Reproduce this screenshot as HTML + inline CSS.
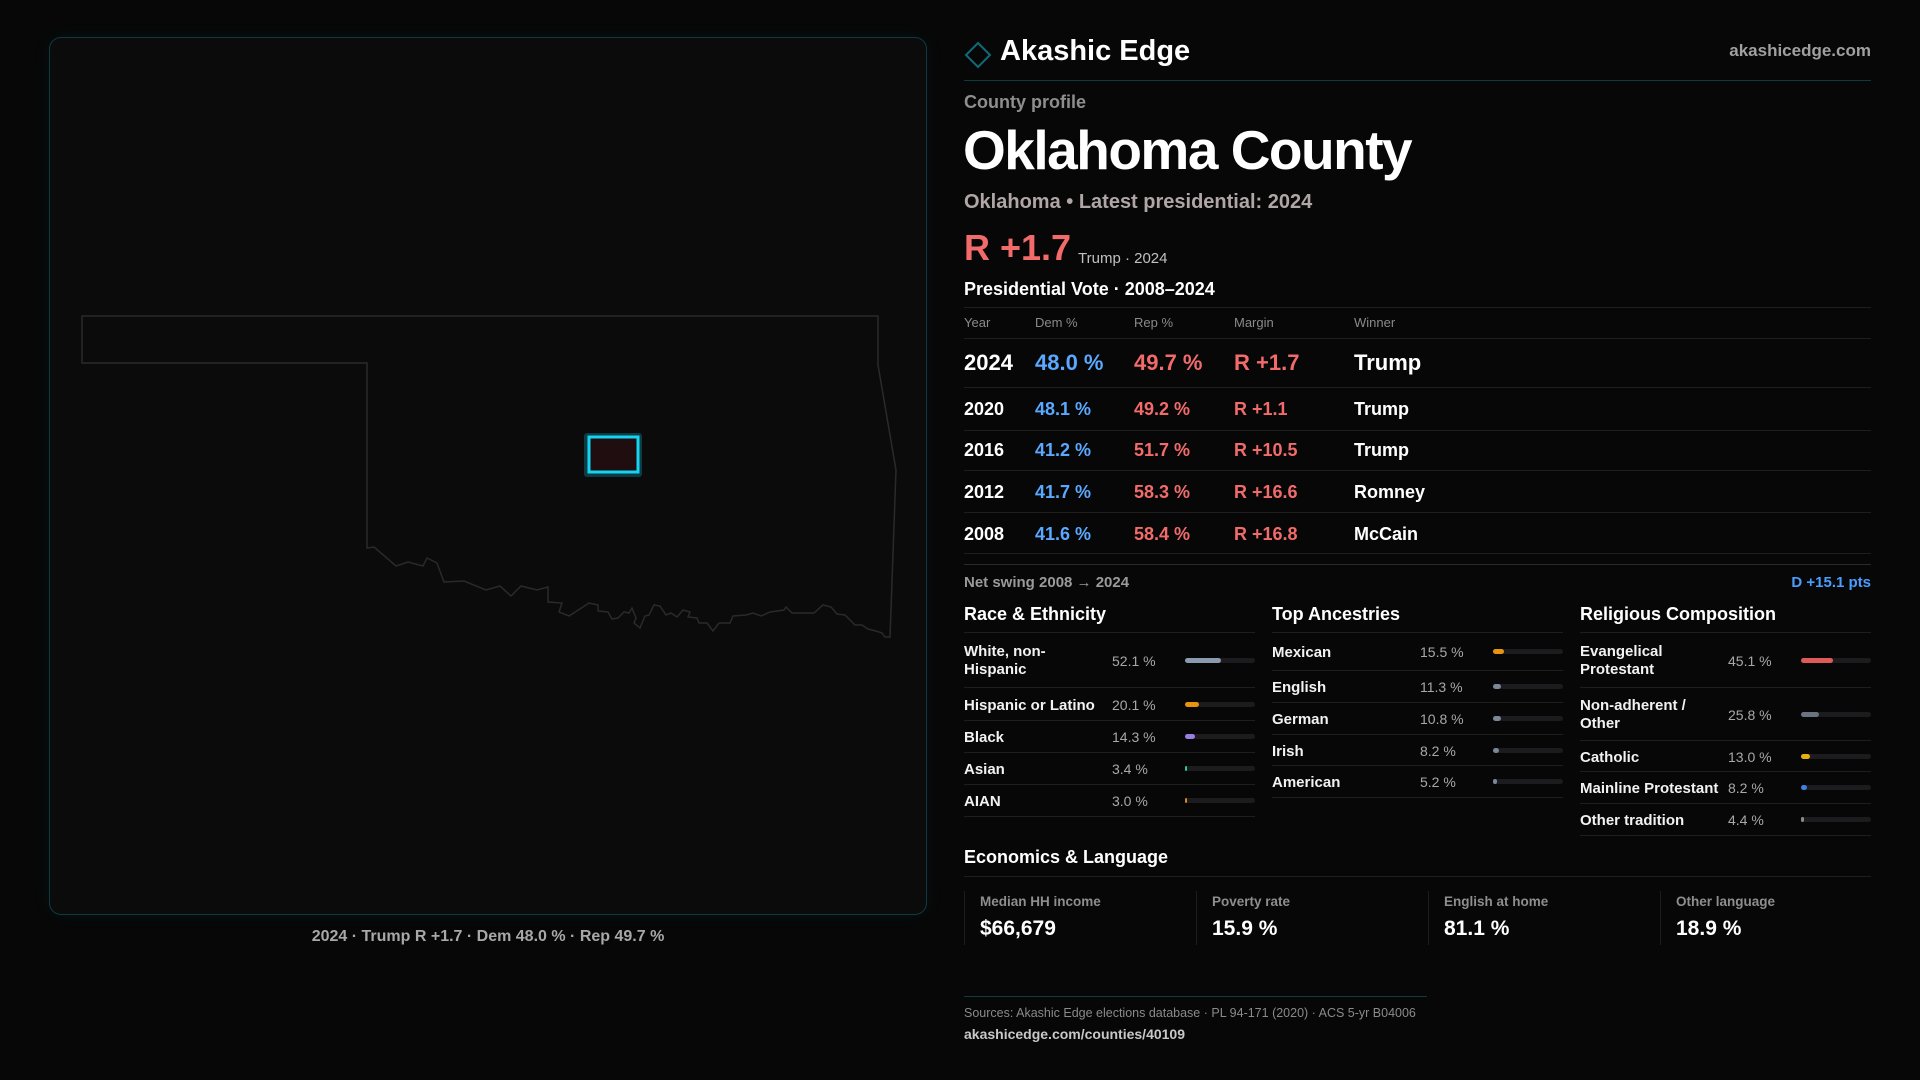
<!DOCTYPE html>
<html><head><meta charset="utf-8"><style>
*{margin:0;padding:0;box-sizing:border-box}
body{width:1920px;height:1080px;background:#070707;font-family:"Liberation Sans",sans-serif;color:#fff;position:relative;overflow:hidden}
.a{position:absolute;white-space:nowrap}
.hl{position:absolute;height:1px;background:#1e1e1e}
.lbl{font-size:15px;font-weight:bold;color:#f2f2f2;line-height:18px}
.val{font-size:14px;color:#a8a8a8}
.track{position:absolute;height:5px;border-radius:3px;background:#1c1c1e}
.fill{position:absolute;left:0;top:0;height:5px;border-radius:3px}
</style></head><body>
<div class="a" style="left:49px;top:37px;width:878px;height:878px;border:1px solid #0f3a40;border-radius:12px;background:#0b0b0c;box-shadow:0 0 18px rgba(0,180,200,0.06)"></div>
<svg class="a" style="left:0;top:0" width="960" height="1000">
<path fill="none" stroke="#2a2a2a" stroke-width="1.5" d="M82,316 L878,316 L878,365 L896,470 L890,637 L885,637 L882,633 L876,631 L868,629 L862,625 L855,625 L845,615 L837,614 L831,607 L823,605 L814,613 L792,613 L786,607 L784,610 L770,612 L761,616 L753,613 L746,615 L733,616 L730,623 L719,623 L713,631 L707,623 L699,623 L697,618 L688,617 L690,612 L683,610 L677,617 L671,613 L666,615 L660,606 L654,605 L649,615 L645,616 L640,628 L634,623 L636,618 L632,608 L629,613 L624,612 L618,618 L612,619 L608,612 L598,611 L598,605 L589,603 L569,616 L559,612 L562,603 L548,602 L548,587 L537,590 L521,586 L511,596 L500,586 L486,590 L464,581 L444,582 L437,563 L427,558 L423,566 L408,562 L396,566 L374,547 L367,548 L367,363 L82,363 Z"/>
<rect x="584" y="433" width="58" height="44" rx="3" fill="#0d3b44"/>
<rect x="589" y="437" width="49" height="35" fill="#1f0d10" stroke="#14d4f0" stroke-width="3"/>
</svg>
<div class="a" style="left:49px;width:878px;top:928px;text-align:center;font-size:16px;font-weight:bold;color:#a8a8a8">2024 · Trump R +1.7 · Dem 48.0 % · Rep 49.7 %</div>

<svg class="a" style="left:964px;top:41px" width="28" height="28"><path d="M14,2 L26,14 L14,26 L2,14 Z" fill="none" stroke="#0f6a78" stroke-width="2"/></svg>
<div class="a" style="left:1000px;top:35px;font-size:29px;font-weight:bold">Akashic Edge</div>
<div class="a" style="right:49px;top:41px;font-size:17px;font-weight:bold;color:#a0a0a0">akashicedge.com</div>
<div class="hl" style="left:964px;width:907px;top:80px;background:#0f3a40"></div>
<div class="a" style="left:964px;top:92px;font-size:18px;font-weight:bold;color:#8e8e8e">County profile</div>
<div class="a" style="left:963px;top:118px;font-size:55px;font-weight:bold;letter-spacing:-1.5px">Oklahoma County</div>
<div class="a" style="left:964px;top:191px;font-size:20px;font-weight:bold;color:#b0a6a6">Oklahoma • Latest presidential: 2024</div>
<div class="a" style="left:964px;top:227px;font-size:36px;font-weight:bold;color:#f26b6b">R +1.7</div>
<div class="a" style="left:1078px;top:250px;font-size:15px;color:#c0c0c0">Trump · 2024</div>
<div class="a" style="left:964px;top:279px;font-size:18px;font-weight:bold">Presidential Vote · 2008–2024</div>
<div id="vt"></div>
<div class="a" style="left:964px;top:574px;font-size:15px;font-weight:bold;color:#9a9a9a">Net swing 2008 → 2024</div>
<div class="a" style="right:49px;top:574px;font-size:15px;font-weight:bold;color:#4a9eff">D +15.1 pts</div>
<div id="bars"></div>
<div class="a" style="left:964px;top:847px;font-size:18px;font-weight:bold">Economics &amp; Language</div>
<div class="hl" style="left:964px;width:907px;top:876px"></div>
<div id="econ"></div>
<div class="hl" style="left:964px;width:463px;top:996px;background:#0f3a40"></div>
<div class="a" style="left:964px;top:1006px;font-size:12.5px;color:#8a8a8a">Sources: Akashic Edge elections database · PL 94-171 (2020) · ACS 5-yr B04006</div>
<div class="a" style="left:964px;top:1026px;font-size:14px;font-weight:bold;color:#c8c8c8">akashicedge.com/counties/40109</div>
<script>
const years=["2024","2020","2016","2012","2008"];
const demPct=[48.0,48.1,41.2,41.7,41.6];
const repPct=[49.7,49.2,51.7,58.3,58.4];
const winners=["Trump","Trump","Trump","Romney","McCain"];
const raceLabels=["White, non-<br>Hispanic","Hispanic or Latino","Black","Asian","AIAN"];
const raceVals=[52.1,20.1,14.3,3.4,3.0];
const ancLabels=["Mexican","English","German","Irish","American"];
const ancVals=[15.5,11.3,10.8,8.2,5.2];
const relLabels=["Evangelical<br>Protestant","Non-adherent /<br>Other","Catholic","Mainline Protestant","Other tradition"];
const relVals=[45.1,25.8,13.0,8.2,4.4];
const econLabels=["Median HH income","Poverty rate","English at home","Other language"];
const econVals=["$66,679","15.9 %","81.1 %","18.9 %"];

function add(parent,html,name,style,cls){const d=document.createElement('div');d.className=cls||'a';d.innerHTML=html;d.style.cssText=style;


parent.appendChild(d);return d;}
const vt=document.getElementById('vt');
const cols=[964,1035,1134,1234,1354];
["Year","Dem %","Rep %","Margin","Winner"].forEach((h,i)=>add(vt,h,'table-header','left:'+cols[i]+'px;top:315px;font-size:13px;color:#8a8a8a'));
[307,338].forEach(y=>add(vt,'','table-rule','left:964px;width:907px;top:'+y+'px','hl'));
const rowY=[361,408,449,491,533];const ruleY=[387,430,470,512,553];
years.forEach((yr,i)=>{const big=i==0;const fs=big?22:18;const t=rowY[i]-fs/2;
const m=repPct[i]-demPct[i];const mt=(m>=0?'R +':'D +')+Math.abs(m).toFixed(1);
add(vt,yr,'year-'+yr,'left:964px;top:'+t+'px;font-size:'+fs+'px;font-weight:bold');
add(vt,demPct[i].toFixed(1)+' %','dem-'+yr,'left:1035px;top:'+t+'px;font-size:'+fs+'px;font-weight:bold;color:#5aa8ff');
add(vt,repPct[i].toFixed(1)+' %','rep-'+yr,'left:1134px;top:'+t+'px;font-size:'+fs+'px;font-weight:bold;color:#f26b6b');
add(vt,mt,'margin-'+yr,'left:1234px;top:'+t+'px;font-size:'+fs+'px;font-weight:bold;color:#f26b6b');
add(vt,winners[i],'winner-'+yr,'left:1354px;top:'+t+'px;font-size:'+fs+'px;font-weight:bold');
add(vt,'','table-rule','left:964px;width:907px;top:'+ruleY[i]+'px','hl');});
add(vt,'','table-rule','left:964px;width:907px;top:564px;background:#2a2a2a','hl');

const bars=document.getElementById('bars');
function panel(x,title,labels,vals,colors,heights,name){
 add(bars,title,name+'-title','left:'+x+'px;top:604px;font-size:18px;font-weight:bold');
 add(bars,'','rule','left:'+x+'px;width:291px;top:632px','hl');
 let y=632;
 labels.forEach((l,i)=>{const h=heights[i];const c=y+h/2;
  const two=l.indexOf('<br>')>=0;
  add(bars,l,name+'-label','left:'+x+'px;top:'+(c-(two?17:7))+'px','a lbl');
  add(bars,vals[i].toFixed(1)+' %',name+'-value','left:'+(x+148)+'px;top:'+(c-7)+'px','a val');
  const tr=add(bars,'',name+'-bar-track','left:'+(x+221)+'px;width:70px;top:'+(c-2)+'px','track');
  const f=document.createElement('div');f.className='fill';f.style.width=Math.max(2,vals[i]/100*70)+'px';f.style.background=colors[i];
  
  
  tr.appendChild(f);
  y+=h;add(bars,'','rule','left:'+x+'px;width:291px;top:'+y+'px','hl');});
}
panel(964,'Race &amp; Ethnicity',raceLabels,raceVals,['#8a9bb0','#e8940f','#9a7fe0','#2ec4a0','#d9822b'],[55,33,32,32,32],'race');
panel(1272,'Top Ancestries',ancLabels,ancVals,['#e8940f','#7a8699','#7a8699','#7a8699','#7a8699'],[38,32,32,31,32],'ancestry');
panel(1580,'Religious Composition',relLabels,relVals,['#e05a5a','#6b7380','#e8b00f','#3f7fe0','#8a8a8a'],[55,53,31,32,32],'religion');

const econ=document.getElementById('econ');
econLabels.forEach((l,i)=>{const x=964+i*232;
 add(econ,'','econ-divider','left:'+x+'px;top:891px;width:1px;height:54px;background:#1e1e1e');
 add(econ,l,'econ-label','left:'+(x+16)+'px;top:894px;font-size:13.5px;font-weight:bold;color:#8e8e8e');
 add(econ,econVals[i],'econ-value','left:'+(x+16)+'px;top:917px;font-size:21px;font-weight:bold');});
</script>
</body></html>
